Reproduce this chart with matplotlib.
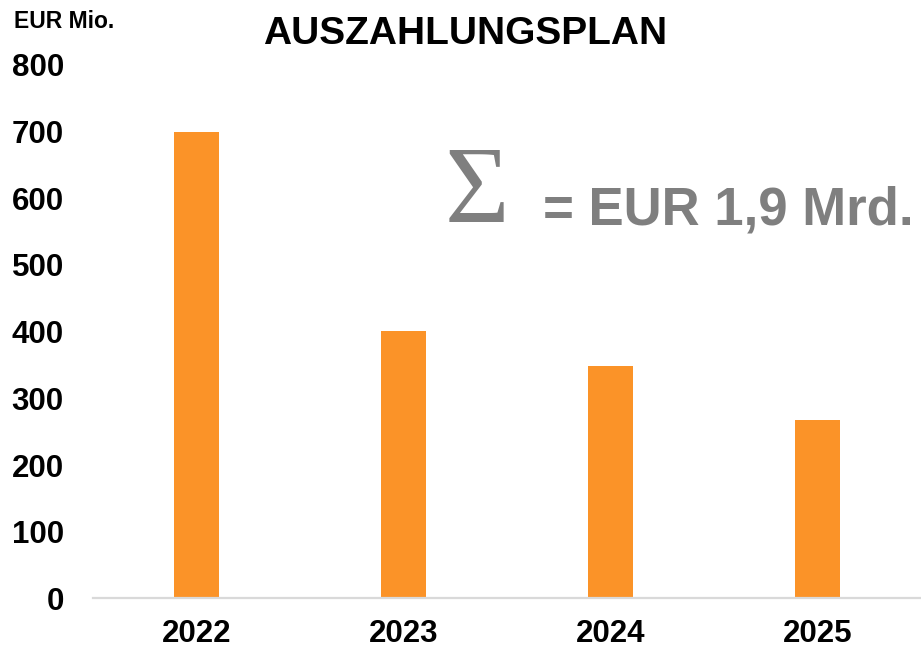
import matplotlib.pyplot as plt
import numpy as np

years = ['2022', '2023', '2024', '2025']
payouts = [700, 401, 348, 268]
yticks = [0, 100, 200, 300, 400, 500, 600, 700, 800]

plt.rcParams['font.family'] = ['Liberation Sans', 'DejaVu Sans']
plt.rcParams['font.weight'] = 'bold'

fig = plt.figure(figsize=(9.21, 6.49), dpi=100)
ax = fig.add_axes([93 / 921, 0.078, 1 - 93 / 921, 0.822])

x = np.arange(len(years))
ax.bar(x, payouts, width=0.22, color='#FB9328')

ax.set_xlim(-0.5, len(years) - 0.5)
ax.set_ylim(0, 800)
ax.set_xticks(x)
ax.set_xticklabels(years, fontsize=22.5, fontweight='bold')
ax.set_yticks(yticks)
ax.set_yticklabels([str(v) for v in yticks], fontsize=22.5, fontweight='bold')
ax.tick_params(axis='both', length=0)
ax.tick_params(axis='x', pad=15)
ax.tick_params(axis='y', pad=21)

for s in ['top', 'right', 'left']:
    ax.spines[s].set_visible(False)
ax.spines['bottom'].set_color('#d9d9d9')
ax.spines['bottom'].set_linewidth(1.6)

fig.text(465 / 921, 1 - 34 / 649, 'AUSZAHLUNGSPLAN', ha='center', va='center',
         fontsize=28, fontweight='bold')
fig.text(14 / 921, 1 - 22 / 649, 'EUR Mio.', ha='left', va='center',
         fontsize=16.5, fontweight='bold')

fig.text(445 / 921, 1 - 222 / 649, '\u03a3', ha='left', va='baseline',
         fontsize=80, fontweight='normal', color='#7f7f7f',
         family=['Liberation Serif', 'DejaVu Serif'])
fig.text(543 / 921, 1 - 225 / 649, '= EUR 1,9 Mrd.', ha='left', va='baseline',
         fontsize=38, fontweight='bold', color='#7f7f7f')

fig.savefig('out.png', dpi=100)
